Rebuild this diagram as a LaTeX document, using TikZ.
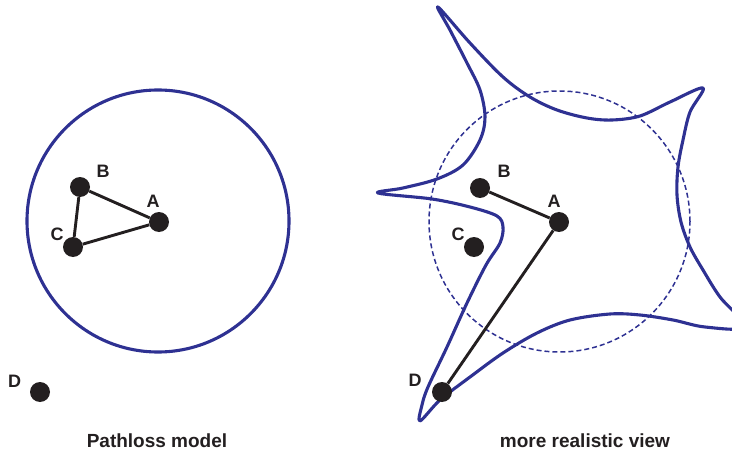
\documentclass[tikz,border=0pt]{standalone}
\usepackage{fontspec}
\setmainfont{Liberation Sans}
\definecolor{rangeblue}{HTML}{2E3192}
\definecolor{inkblack}{HTML}{231F20}
\tikzset{
  dot/.style={circle, fill=inkblack, draw=none, minimum size=20pt, inner sep=0pt},
  lbl/.style={anchor=base, inner sep=0pt, font=\fontsize{18}{18}\selectfont\bfseries, text=inkblack},
  captionbox/.style={anchor=base, inner sep=0pt, font=\fontsize{19}{19}\selectfont\bfseries, text=inkblack},
  link/.style={draw=inkblack, line width=2.9pt},
  radiorange/.style={draw=rangeblue, line width=3.1pt},
  nominal/.style={draw=rangeblue, line width=1.5pt, dash pattern=on 5pt off 3pt},
}
\begin{document}
\begin{tikzpicture}[x=1pt, y=-1pt]
\useasboundingbox (0,0) rectangle (732,452);
% ---------- left: pathloss model ----------
\node[radiorange, circle, minimum size=262pt, inner sep=0pt] (rangeL) at (158,221) {};
\node[dot] (AL) at (159,222) {};
\node[dot] (BL) at (80,187) {};
\node[dot] (CL) at (73,247) {};
\node[dot] (DL) at (40,392) {};
\draw[link] (BL) -- (AL);
\draw[link] (AL) -- (CL);
\draw[link] (CL) -- (BL);
\node[lbl] (lAL) at (153,207.3) {A};
\node[lbl] (lBL) at (103,178) {B};
\node[lbl] (lCL) at (57,240) {C};
\node[lbl] (lDL) at (14.5,387) {D};
\node[captionbox] (capL) at (157,447.3) {Pathloss model};
% ---------- right: more realistic view ----------
\node[nominal, circle, minimum size=261pt, inner sep=0pt] (rangeR) at (559.5,221.5) {};
\begin{scope}
\clip (0,0) rectangle (732,452);
\draw[radiorange, line join=round] plot[smooth cycle, tension=0.55] coordinates {
 (438,7) (470,43) (503,77) (530,97) (557,110) (587,118) (612,120) (640,116) (670,102) (703,88)
 (690,112) (683,140) (678,167) (677,195) (681,222) (690,247) (703,270) (720,297) (745,327)
 (705,327) (673,320) (640,315) (610,314) (570,320) (537,333) (503,353) (470,377) (440,400) (420,421)
 (422,405) (428,387) (447,347) (467,303) (486,265) (500,243) (503,227) (497,216) (470,207) (432,199) (378,193)
 (403,188) (437,179) (463,165) (480,140) (485,117) (480,90) (467,63) (450,30)};
\end{scope}
\node[dot] (AR) at (559,222) {};
\node[dot] (BR) at (480,188) {};
\node[dot] (CR) at (474,247) {};
\node[dot] (DR) at (442,392) {};
\draw[link] (BR) -- (AR);
\draw[link] (AR) -- (DR);
\node[lbl] (lAR) at (554,207.3) {A};
\node[lbl] (lBR) at (504,178) {B};
\node[lbl] (lCR) at (458,240) {C};
\node[lbl] (lDR) at (415,386.7) {D};
\node[captionbox] (capR) at (585,447.3) {more realistic view};
\end{tikzpicture}
\end{document}
